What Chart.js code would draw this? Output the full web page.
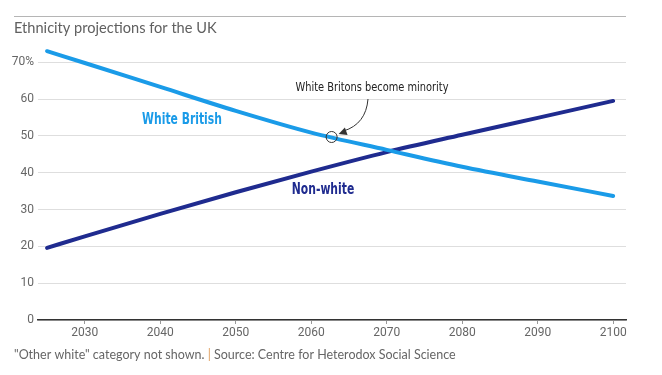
<!DOCTYPE html>
<html>
<head>
<meta charset="utf-8">
<script src="https://cdn.jsdelivr.net/npm/chart.js@4.4.1/dist/chart.umd.min.js"></script>
<style>
  html, body { margin: 0; padding: 0; background: #fff; }
  #wrap { width: 662px; height: 375px; position: relative; }
</style>
</head>
<body>
<div id="wrap"><canvas id="myChart"></canvas></div>
<script>
const years = [2025, 2030, 2040, 2050, 2060, 2070, 2080, 2090, 2100];
const whiteBritish = [73, 69.8, 63.3, 56.8, 50.9, 46.2, 41.6, 37.6, 33.7];
const nonWhite = [19.6, 22.7, 28.8, 34.7, 40.3, 45.6, 50.3, 54.9, 59.5];
const xTicks = [2030, 2040, 2050, 2060, 2070, 2080, 2090, 2100];
const yTicks = [0, 10, 20, 30, 40, 50, 60, 70];
const crossover = { year: 2062.7, value: 49.7 };

const toPoints = (arr) => arr.map((v, i) => ({ x: years[i], y: v }));

const condensed = '"DejaVu Sans Condensed", Roboto, sans-serif';

// draw text squeezed horizontally to mimic a condensed face
function narrowText(ctx, text, x, y, squeeze) {
  ctx.save();
  ctx.translate(x, y);
  ctx.scale(squeeze, 1);
  ctx.fillText(text, 0, 0);
  ctx.restore();
}

const extras = {
  id: 'extras',
  afterDraw(chart) {
    const { ctx, scales: { x, y } } = chart;
    ctx.save();

    // top rule and title
    ctx.strokeStyle = '#b5b5b5';
    ctx.lineWidth = 1;
    ctx.beginPath();
    ctx.moveTo(14, 16.5);
    ctx.lineTo(626, 16.5);
    ctx.stroke();

    ctx.fillStyle = '#606060';
    ctx.font = '14.6px Lato, "Open Sans", sans-serif';
    ctx.textAlign = 'left';
    ctx.textBaseline = 'middle';
    ctx.fillText('Ethnicity projections for the UK', 14, 28);

    // footnote
    ctx.font = '12.5px Lato, "Open Sans", sans-serif';
    const part1 = '"Other white" category not shown. ';
    const part2 = '| ';
    const part3 = 'Source: Centre for Heterodox Social Science';
    let fx = 14;
    ctx.fillStyle = '#666';
    ctx.fillText(part1, fx, 355);
    fx += ctx.measureText(part1).width;
    ctx.fillStyle = '#e0a060';
    ctx.fillText(part2, fx, 355);
    fx += ctx.measureText(part2).width;
    ctx.fillStyle = '#666';
    ctx.fillText(part3, fx, 355);

    // series labels
    ctx.textAlign = 'center';
    ctx.font = 'bold 15px ' + condensed;
    ctx.fillStyle = '#1a9be8';
    narrowText(ctx, 'White British', 182, 120, 0.8);
    ctx.fillStyle = '#1f2b8f';
    narrowText(ctx, 'Non-white', 323, 190, 0.8);

    // annotation
    const cx = x.getPixelForValue(crossover.year);
    const cy = y.getPixelForValue(crossover.value);
    ctx.strokeStyle = '#333';
    ctx.lineWidth = 1;
    ctx.beginPath();
    ctx.arc(cx, cy, 5.5, 0, Math.PI * 2);
    ctx.stroke();

    ctx.font = '13px ' + condensed;
    ctx.fillStyle = '#222';
    narrowText(ctx, 'White Britons become minority', 372, 88, 0.84);

    const tipX = cx + 7, tipY = cy - 3;
    const ctrlX = 366, ctrlY = 124;
    ctx.beginPath();
    ctx.moveTo(368, 99);
    ctx.quadraticCurveTo(ctrlX, ctrlY, tipX + 5, tipY - 3);
    ctx.stroke();
    // arrowhead
    const ang = Math.atan2(tipY - ctrlY, tipX - ctrlX);
    const len = 9, spread = 0.45;
    ctx.fillStyle = '#333';
    ctx.beginPath();
    ctx.moveTo(tipX, tipY);
    ctx.lineTo(tipX - len * Math.cos(ang - spread), tipY - len * Math.sin(ang - spread));
    ctx.lineTo(tipX - len * Math.cos(ang + spread), tipY - len * Math.sin(ang + spread));
    ctx.closePath();
    ctx.fill();

    ctx.restore();
  },
};

new Chart(document.getElementById('myChart'), {
  type: 'line',
  data: {
    datasets: [
      {
        label: 'White British',
        data: toPoints(whiteBritish),
        borderColor: '#1a9be8',
        borderWidth: 4,
        pointRadius: 0,
        cubicInterpolationMode: 'monotone',
        borderCapStyle: 'round',
      },
      {
        label: 'Non-white',
        data: toPoints(nonWhite),
        borderColor: '#1f2b8f',
        borderWidth: 4,
        pointRadius: 0,
        cubicInterpolationMode: 'monotone',
        borderCapStyle: 'round',
      },
    ],
  },
  options: {
    responsive: true,
    maintainAspectRatio: false,
    animation: false,
    layout: { padding: { top: 42, right: 36, bottom: 35, left: 0 } },
    plugins: {
      legend: { display: false },
      tooltip: { enabled: false },
    },
    scales: {
      x: {
        type: 'linear',
        min: 2023.8,
        max: 2101.7,
        afterBuildTicks: (scale) => { scale.ticks = xTicks.map((v) => ({ value: v })); },
        afterFit: (scale) => { scale.height = 20; },
        grid: { drawOnChartArea: false, drawTicks: true, tickLength: 4, color: '#999' },
        border: { color: '#333', width: 1.5 },
        ticks: {
          color: '#666',
          font: { family: 'Roboto, sans-serif', size: 12 },
          padding: 2,
          maxRotation: 0,
          callback: (v) => String(v),
        },
      },
      y: {
        min: 0,
        max: 75.5,
        afterBuildTicks: (scale) => { scale.ticks = yTicks.map((v) => ({ value: v })); },
        afterFit: (scale) => { scale.width = 38; },
        grid: { color: '#dedede', drawTicks: false },
        border: { display: false },
        ticks: {
          color: '#666',
          font: { family: 'Roboto, sans-serif', size: 12 },
          padding: 4,
          callback: (v) => (v === 70 ? '70%' : String(v)),
        },
      },
    },
  },
  plugins: [extras],
});
</script>
</body>
</html>
